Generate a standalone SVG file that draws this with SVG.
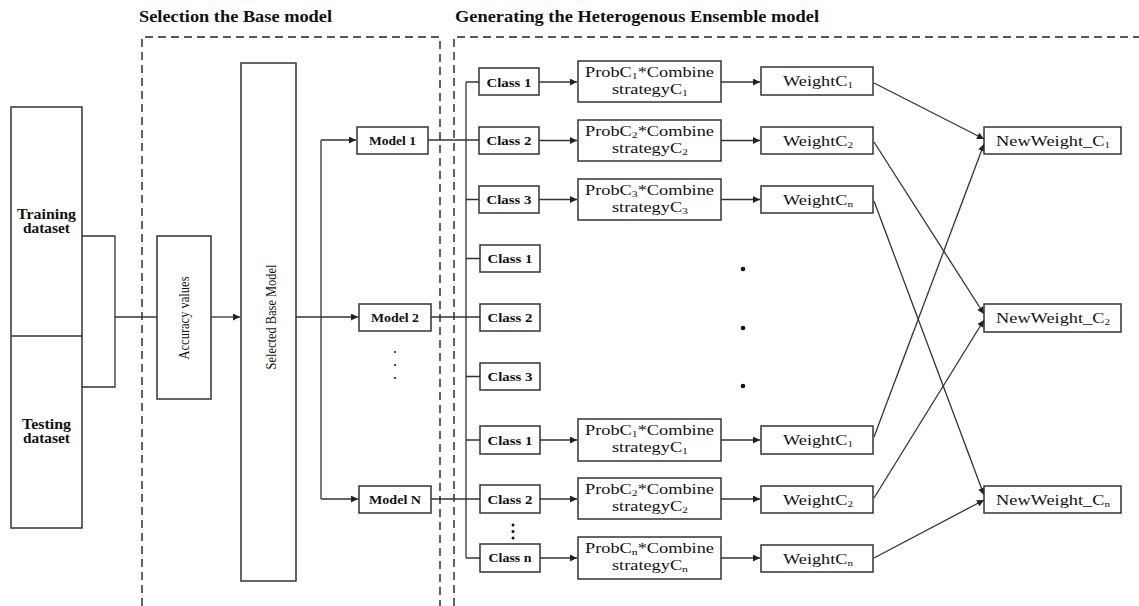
<svg xmlns="http://www.w3.org/2000/svg" width="1139" height="606" viewBox="0 0 1139 606">
<defs>
<marker id="ah" viewBox="0 0 10 10" refX="10" refY="5" markerWidth="8" markerHeight="7" markerUnits="userSpaceOnUse" orient="auto">
<path d="M0,0 L10,5 L0,10 z" fill="#222"/>
</marker>
<style>
rect{fill:#fff;stroke:#333;stroke-width:1.5}
.dash{fill:none;stroke:#222;stroke-width:1.4;stroke-dasharray:8 5}
.c path,.c line{fill:none;stroke:#333;stroke-width:1.3}
.a{marker-end:url(#ah)}
text{font-family:"Liberation Serif","Times New Roman",serif;fill:#111}
.b{font-weight:bold}
.t{font-size:16px;font-weight:bold}
.cl{font-size:13px;font-weight:bold;text-anchor:middle}
.m{font-size:13.5px;font-weight:bold;text-anchor:middle}
.p{font-size:15px;text-anchor:middle}
.q{font-size:14px;text-anchor:middle}
.r{font-size:15px;text-anchor:middle}
.s{font-size:9px}
.dot{fill:#111}
</style>
</defs>
<g id="titles">
<text class="t" x="139" y="22" textLength="193" lengthAdjust="spacingAndGlyphs">Selection the Base model</text>
<text class="t" x="455" y="22" textLength="364" lengthAdjust="spacingAndGlyphs">Generating the Heterogenous Ensemble model</text>
</g>
<g id="frames">
<path class="dash" d="M142,606 V37 H440 V606"/>
<path class="dash" d="M454,606 V37 H1139"/>
</g>
<g id="connectors" class="c">
<path d="M82,236 H115 V387 H82"/>
<path d="M115,317 H157"/>
<path class="a" d="M211,317 H240"/>
<path class="a" d="M296,317 H358"/>
<path d="M321,140 V499"/>
<path class="a" d="M321,140 H356"/>
<path class="a" d="M321,499 H358"/>
<path d="M428,140 H479"/>
<path d="M431,317 H480"/>
<path d="M431,499 H480"/>
<path d="M466,82 V558"/>
<path d="M466,82 H479 M466,199.5 H479 M466,258.5 H480 M466,376.5 H480 M466,440 H480 M466,558 H480"/>
<path class="a" d="M539,82 H577"/>
<path class="a" d="M539,140.5 H577"/>
<path class="a" d="M539,199.5 H577"/>
<path class="a" d="M540,440 H577"/>
<path class="a" d="M540,499 H577"/>
<path class="a" d="M540,558 H577"/>
<path class="a" d="M721,82 H760"/>
<path class="a" d="M721,140.5 H760"/>
<path class="a" d="M721,199.5 H760"/>
<path class="a" d="M721,440 H760"/>
<path class="a" d="M721,499 H760"/>
<path class="a" d="M721,558 H760"/>
<path class="a" d="M874,83 L984,139"/>
<path class="a" d="M874,142 L984,314"/>
<path class="a" d="M874,201 L984,495"/>
<path class="a" d="M874,437 L984,144"/>
<path class="a" d="M874,498 L984,320"/>
<path class="a" d="M874,558 L984,500"/>
</g>
<g id="dataset">
<rect x="11" y="107" width="71" height="421"/>
<line x1="11" y1="336" x2="82" y2="336" stroke="#333" stroke-width="1.5"/>
<text class="b" font-size="14" x="17" y="219" textLength="59" lengthAdjust="spacingAndGlyphs">Training</text>
<text class="b" font-size="14" x="23" y="233" textLength="47" lengthAdjust="spacingAndGlyphs">dataset</text>
<text class="b" font-size="14" x="22" y="429" textLength="49" lengthAdjust="spacingAndGlyphs">Testing</text>
<text class="b" font-size="14" x="23" y="443" textLength="47" lengthAdjust="spacingAndGlyphs">dataset</text>
</g>
<g id="accuracy">
<rect x="157" y="236" width="54" height="163"/>
<text class="r" transform="translate(184,318) rotate(-90)" x="0" y="5" textLength="83" lengthAdjust="spacingAndGlyphs">Accuracy values</text>
</g>
<g id="selected">
<rect x="241" y="63" width="55" height="518"/>
<text class="r" transform="translate(271,317) rotate(-90)" x="0" y="5" textLength="105" lengthAdjust="spacingAndGlyphs">Selected Base Model</text>
</g>
<g id="model1"><rect x="357" y="127" width="71" height="27"/><text class="m" x="392.5" y="145" textLength="47" lengthAdjust="spacingAndGlyphs">Model 1</text></g>
<g id="model2"><rect x="359" y="304" width="72" height="27"/><text class="m" x="395" y="322" textLength="48" lengthAdjust="spacingAndGlyphs">Model 2</text></g>
<g id="modelN"><rect x="359" y="486" width="72" height="27"/><text class="m" x="395" y="504" textLength="52" lengthAdjust="spacingAndGlyphs">Model N</text></g>
<g id="model-dots"><circle class="dot" cx="395" cy="352" r="1"/><circle class="dot" cx="395" cy="365" r="1"/><circle class="dot" cx="395" cy="378" r="1"/></g>
<g id="classes">
<g id="c1a"><rect x="479" y="68" width="60" height="27"/><text class="cl" x="509" y="86.5" textLength="45" lengthAdjust="spacingAndGlyphs">Class 1</text></g>
<g id="c2a"><rect x="479" y="127" width="60" height="27"/><text class="cl" x="509" y="145" textLength="45" lengthAdjust="spacingAndGlyphs">Class 2</text></g>
<g id="c3a"><rect x="479" y="186" width="60" height="27"/><text class="cl" x="509" y="204" textLength="45" lengthAdjust="spacingAndGlyphs">Class 3</text></g>
<g id="c1b"><rect x="480" y="245" width="60" height="27"/><text class="cl" x="510" y="263" textLength="45" lengthAdjust="spacingAndGlyphs">Class 1</text></g>
<g id="c2b"><rect x="480" y="304" width="60" height="27"/><text class="cl" x="510" y="322" textLength="45" lengthAdjust="spacingAndGlyphs">Class 2</text></g>
<g id="c3b"><rect x="480" y="363" width="60" height="27"/><text class="cl" x="510" y="381" textLength="45" lengthAdjust="spacingAndGlyphs">Class 3</text></g>
<g id="c1c"><rect x="480" y="426" width="60" height="28"/><text class="cl" x="510" y="444.5" textLength="45" lengthAdjust="spacingAndGlyphs">Class 1</text></g>
<g id="c2c"><rect x="480" y="485" width="60" height="28"/><text class="cl" x="510" y="503.5" textLength="45" lengthAdjust="spacingAndGlyphs">Class 2</text></g>
<g id="cnc"><rect x="480" y="544" width="60" height="28"/><text class="cl" x="510" y="562" font-size="12" textLength="43" lengthAdjust="spacingAndGlyphs">Class n</text></g>
</g>
<g id="class-dots"><circle class="dot" cx="513" cy="525" r="1.5"/><circle class="dot" cx="513" cy="531.5" r="1.5"/><circle class="dot" cx="513" cy="538" r="1.5"/></g>
<g id="probs">
<g id="p1a"><rect x="578" y="61" width="143" height="41"/><text class="q" x="649.5" y="77" textLength="129" lengthAdjust="spacingAndGlyphs">ProbC<tspan class="s" dy="2">1</tspan><tspan dy="-2">*Combine</tspan></text><text class="q" x="650" y="94" textLength="76" lengthAdjust="spacingAndGlyphs">strategyC<tspan class="s" dy="2">1</tspan></text></g>
<g id="p2a"><rect x="578" y="120" width="143" height="41"/><text class="q" x="649.5" y="136" textLength="129" lengthAdjust="spacingAndGlyphs">ProbC<tspan class="s" dy="2">2</tspan><tspan dy="-2">*Combine</tspan></text><text class="q" x="650" y="153" textLength="76" lengthAdjust="spacingAndGlyphs">strategyC<tspan class="s" dy="2">2</tspan></text></g>
<g id="p3a"><rect x="578" y="179" width="143" height="41"/><text class="q" x="649.5" y="195" textLength="129" lengthAdjust="spacingAndGlyphs">ProbC<tspan class="s" dy="2">3</tspan><tspan dy="-2">*Combine</tspan></text><text class="q" x="650" y="212" textLength="76" lengthAdjust="spacingAndGlyphs">strategyC<tspan class="s" dy="2">3</tspan></text></g>
<g id="p1c"><rect x="578" y="419" width="143" height="42"/><text class="q" x="649.5" y="435" textLength="129" lengthAdjust="spacingAndGlyphs">ProbC<tspan class="s" dy="2">1</tspan><tspan dy="-2">*Combine</tspan></text><text class="q" x="650" y="452" textLength="76" lengthAdjust="spacingAndGlyphs">strategyC<tspan class="s" dy="2">1</tspan></text></g>
<g id="p2c"><rect x="578" y="478" width="143" height="41"/><text class="q" x="649.5" y="494" textLength="129" lengthAdjust="spacingAndGlyphs">ProbC<tspan class="s" dy="2">2</tspan><tspan dy="-2">*Combine</tspan></text><text class="q" x="650" y="511" textLength="76" lengthAdjust="spacingAndGlyphs">strategyC<tspan class="s" dy="2">2</tspan></text></g>
<g id="pnc"><rect x="578" y="537" width="143" height="42"/><text class="q" x="649.5" y="553" textLength="129" lengthAdjust="spacingAndGlyphs">ProbC<tspan class="s" dy="2">n</tspan><tspan dy="-2">*Combine</tspan></text><text class="q" x="650" y="570" textLength="76" lengthAdjust="spacingAndGlyphs">strategyC<tspan class="s" dy="2">n</tspan></text></g>
</g>
<g id="big-dots"><circle class="dot" cx="743" cy="269" r="2.3"/><circle class="dot" cx="743" cy="328" r="2.3"/><circle class="dot" cx="743" cy="386" r="2.3"/></g>
<g id="weights">
<g id="w1a"><rect x="761" y="67" width="112" height="28"/><text class="p" x="818" y="86" textLength="70" lengthAdjust="spacingAndGlyphs">WeightC<tspan class="s" dy="2">1</tspan></text></g>
<g id="w2a"><rect x="761" y="127" width="112" height="27"/><text class="p" x="818" y="145.5" textLength="70" lengthAdjust="spacingAndGlyphs">WeightC<tspan class="s" dy="2">2</tspan></text></g>
<g id="wna"><rect x="761" y="186" width="112" height="27"/><text class="p" x="818" y="204.5" textLength="70" lengthAdjust="spacingAndGlyphs">WeightC<tspan class="s" dy="2">n</tspan></text></g>
<g id="w1c"><rect x="761" y="426" width="112" height="28"/><text class="p" x="818" y="445" textLength="70" lengthAdjust="spacingAndGlyphs">WeightC<tspan class="s" dy="2">1</tspan></text></g>
<g id="w2c"><rect x="761" y="486" width="112" height="27"/><text class="p" x="818" y="504.5" textLength="70" lengthAdjust="spacingAndGlyphs">WeightC<tspan class="s" dy="2">2</tspan></text></g>
<g id="wnc"><rect x="761" y="545" width="112" height="27"/><text class="p" x="818" y="563.5" textLength="70" lengthAdjust="spacingAndGlyphs">WeightC<tspan class="s" dy="2">n</tspan></text></g>
</g>
<g id="newweights">
<g id="nw1"><rect x="984" y="127" width="137" height="27"/><text class="p" x="1053" y="146" textLength="114" lengthAdjust="spacingAndGlyphs">NewWeight_C<tspan class="s" dy="2">1</tspan></text></g>
<g id="nw2"><rect x="984" y="304" width="137" height="28"/><text class="p" x="1053" y="323" textLength="114" lengthAdjust="spacingAndGlyphs">NewWeight_C<tspan class="s" dy="2">2</tspan></text></g>
<g id="nwn"><rect x="984" y="486" width="137" height="27"/><text class="p" x="1053" y="505" textLength="114" lengthAdjust="spacingAndGlyphs">NewWeight_C<tspan class="s" dy="2">n</tspan></text></g>
</g>
</svg>
